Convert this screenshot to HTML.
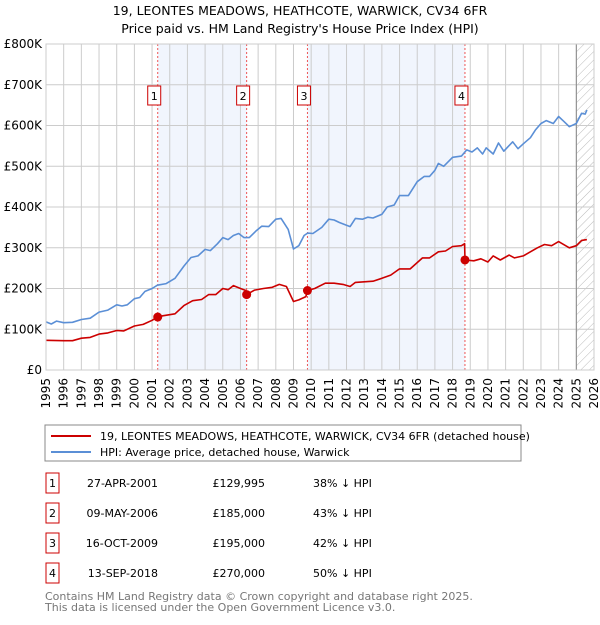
<!DOCTYPE html>
<html><head><meta charset="utf-8"><style>
body{margin:0;background:#fff;font-family:"Liberation Sans","DejaVu Sans",sans-serif;}
svg text{font-family:"DejaVu Sans","Liberation Sans",sans-serif;}
</style></head><body>
<svg width="600" height="620" xmlns="http://www.w3.org/2000/svg">
<defs><pattern id="hatch" width="6" height="6" patternUnits="userSpaceOnUse" patternTransform="rotate(45)"><line x1="0" y1="0" x2="0" y2="6" stroke="#bbb" stroke-width="1"/></pattern></defs>
<text x="300" y="15" text-anchor="middle" font-size="12.5">19, LEONTES MEADOWS, HEATHCOTE, WARWICK, CV34 6FR</text>
<text x="300" y="33" text-anchor="middle" font-size="12.5">Price paid vs. HM Land Registry's House Price Index (HPI)</text>
<g id="plot"></g>
<g>
<rect x="45" y="425" width="476" height="36" fill="#fff" stroke="#888"/>
<line x1="51" y1="436" x2="91" y2="436" stroke="#cc0000" stroke-width="2"/>
<text x="100" y="440" font-size="11">19, LEONTES MEADOWS, HEATHCOTE, WARWICK, CV34 6FR (detached house)</text>
<line x1="51" y1="452" x2="91" y2="452" stroke="#5b8fd6" stroke-width="2"/>
<text x="100" y="456" font-size="11">HPI: Average price, detached house, Warwick</text>
</g>
<g id="table" font-size="11"></g>
<text x="45" y="600" font-size="11" fill="#777">Contains HM Land Registry data © Crown copyright and database right 2025.</text>
<text x="45" y="611" font-size="11" fill="#777">This data is licensed under the Open Government Licence v3.0.</text>
</svg>
<script>
const hpiX=[1995.0,1995.3,1995.6,1996,1996.5,1997,1997.5,1998,1998.5,1999,1999.3,1999.6,2000,2000.3,2000.6,2001,2001.3,2001.8,2002.3,2002.8,2003.2,2003.6,2004,2004.3,2004.7,2005,2005.3,2005.6,2005.9,2006.2,2006.5,2006.9,2007.2,2007.6,2008,2008.3,2008.7,2009.0,2009.3,2009.6,2009.8,2010.1,2010.6,2011,2011.3,2011.6,2012,2012.2,2012.5,2012.9,2013.2,2013.5,2014,2014.3,2014.7,2015,2015.5,2016,2016.4,2016.7,2017,2017.2,2017.5,2018,2018.5,2018.8,2019.1,2019.4,2019.7,2019.9,2020.3,2020.6,2020.9,2021.4,2021.7,2022,2022.4,2022.7,2023,2023.3,2023.7,2024,2024.3,2024.6,2025,2025.3,2025.5,2025.6];
const hpiY=[118,113,120,116,117,124,127,142,147,160,157,160,175,178,193,200,208,212,225,255,276,280,296,293,310,325,320,330,335,325,325,342,353,352,370,372,345,297,305,330,336,335,350,370,368,362,355,352,372,370,375,373,382,400,405,428,428,462,475,475,490,507,500,522,525,540,535,545,530,545,530,557,537,560,543,555,570,590,605,612,605,622,610,597,605,630,628,638];
const ppX=[1995,1996,1996.5,1997,1997.5,1998,1998.5,1999,1999.4,2000,2000.5,2001,2001.32,2001.6,2002.3,2002.8,2003.3,2003.8,2004.2,2004.6,2005,2005.3,2005.6,2006,2006.3,2006.35,2006.8,2007.3,2007.8,2008.2,2008.6,2009,2009.3,2009.7,2009.79,2010.2,2010.8,2011.3,2011.8,2012.2,2012.5,2013.5,2014,2014.5,2015,2015.6,2016.3,2016.7,2017.2,2017.6,2018,2018.5,2018.68,2018.7,2019.2,2019.6,2020,2020.3,2020.7,2021.2,2021.5,2022,2022.4,2022.8,2023.2,2023.6,2024,2024.6,2025,2025.3,2025.6];
const ppY=[73,72,72,78,80,88,91,97,96,108,112,122,130,133,138,158,170,173,185,185,200,197,207,200,195,185,196,200,203,210,205,168,172,180,195,200,213,213,210,205,215,218,225,233,248,248,275,275,290,292,303,305,310,270,268,273,265,280,270,282,275,280,290,300,308,305,315,300,305,318,320];
const saleX=[2001.32,2006.35,2009.79,2018.70];
const saleY=[129.995,185,195,270];
const saleLabels=["1","2","3","4"];
const saleDates=["27-APR-2001","09-MAY-2006","16-OCT-2009","13-SEP-2018"];
const salePrices=["£129,995","£185,000","£195,000","£270,000"];
const saleDiffs=["38% ↓ HPI","43% ↓ HPI","42% ↓ HPI","50% ↓ HPI"];
const yTicks=[0,100,200,300,400,500,600,700,800];
const yTickLabels=["£0","£100K","£200K","£300K","£400K","£500K","£600K","£700K","£800K"];
const xTicks=[1995,1996,1997,1998,1999,2000,2001,2002,2003,2004,2005,2006,2007,2008,2009,2010,2011,2012,2013,2014,2015,2016,2017,2018,2019,2020,2021,2022,2023,2024,2025,2026];

const L=46,R=594,T=44,B=370,X0=1995,X1=2026,YM=800;
const sx=v=>L+(v-X0)/(X1-X0)*(R-L);
const sy=v=>B-v/YM*(B-T);
const NS="http://www.w3.org/2000/svg";
const plot=document.getElementById('plot');
function mk(tag,attrs,parent){const e=document.createElementNS(NS,tag);for(const k in attrs)e.setAttribute(k,attrs[k]);(parent||plot).appendChild(e);return e;}
let r=mk('rect',{x:L,y:T,width:R-L,height:B-T,fill:'#fff'});


// shaded ownership spans
[[0,1],[2,3]].forEach(p=>{const s=mk('rect',{x:sx(saleX[p[0]]),y:T,width:sx(saleX[p[1]])-sx(saleX[p[0]]),height:B-T,fill:'#eef3fc',opacity:0.8});

});
// hatch future
let h=mk('rect',{x:sx(2025.0),y:T,width:R-sx(2025.0),height:B-T,fill:'url(#hatch)'});


// grid
xTicks.forEach(v=>{const g=mk('line',{x1:sx(v),x2:sx(v),y1:T,y2:B,stroke:'#ccc','stroke-width':1});


const t=mk('text',{x:0,y:0,'font-size':12,'text-anchor':'end',transform:`translate(${sx(v)+4},${B+8}) rotate(-90)`});t.textContent=v;

});
yTicks.forEach((v,i)=>{const g=mk('line',{x1:L,x2:R,y1:sy(v),y2:sy(v),stroke:'#ccc','stroke-width':1});


const t=mk('text',{x:L-4,y:sy(v)+4,'font-size':12,'text-anchor':'end'});t.textContent=yTickLabels[i];

});
let ax=mk('line',{x1:sx(2025.0),x2:sx(2025.0),y1:T,y2:B,stroke:'#888','stroke-width':1});


// sale lines & boxes
saleX.forEach((v,i)=>{const l=mk('line',{x1:sx(v),x2:sx(v),y1:T,y2:B,stroke:'#e55','stroke-width':1,'stroke-dasharray':'2,2'});


const b=mk('rect',{x:sx(v)-10,y:86,width:13,height:19,fill:'#fff',stroke:'#cc0000'});


const t=mk('text',{x:sx(v)-3.5,y:100,'font-size':11,'text-anchor':'middle'});t.textContent=saleLabels[i];

});
function line(xs,ys,col,name){const d=xs.map((x,i)=>(i?'L':'M')+sx(x).toFixed(1)+','+sy(ys[i]).toFixed(1)).join('');
const p=mk('path',{d:d,fill:'none',stroke:col,'stroke-width':1.6,'stroke-linejoin':'round'});

}
line(hpiX,hpiY,'#5b8fd6','hpi-line');
line(ppX,ppY,'#cc0000','price-paid-line');
saleX.forEach((v,i)=>{const c=mk('circle',{cx:sx(v),cy:sy(saleY[i]),r:4.5,fill:'#cc0000'});

});
let fr=mk('rect',{x:L,y:T,width:R-L,height:B-T,fill:'none',stroke:'#ccc'});


// table
const tb=document.getElementById('table');
saleLabels.forEach((s,i)=>{const y=483+i*30;
const b=mk('rect',{x:46,y:y-10,width:13,height:20,fill:'#fff',stroke:'#cc0000'},tb);


const cells=[[52.5,'middle',s],[158,'end',saleDates[i]],[265,'end',salePrices[i]],[313,'start',saleDiffs[i]]];
cells.forEach(c=>{const t=mk('text',{x:c[0],y:y+4,'text-anchor':c[1]},tb);t.textContent=c[2];

});});
</script>
</body></html>
